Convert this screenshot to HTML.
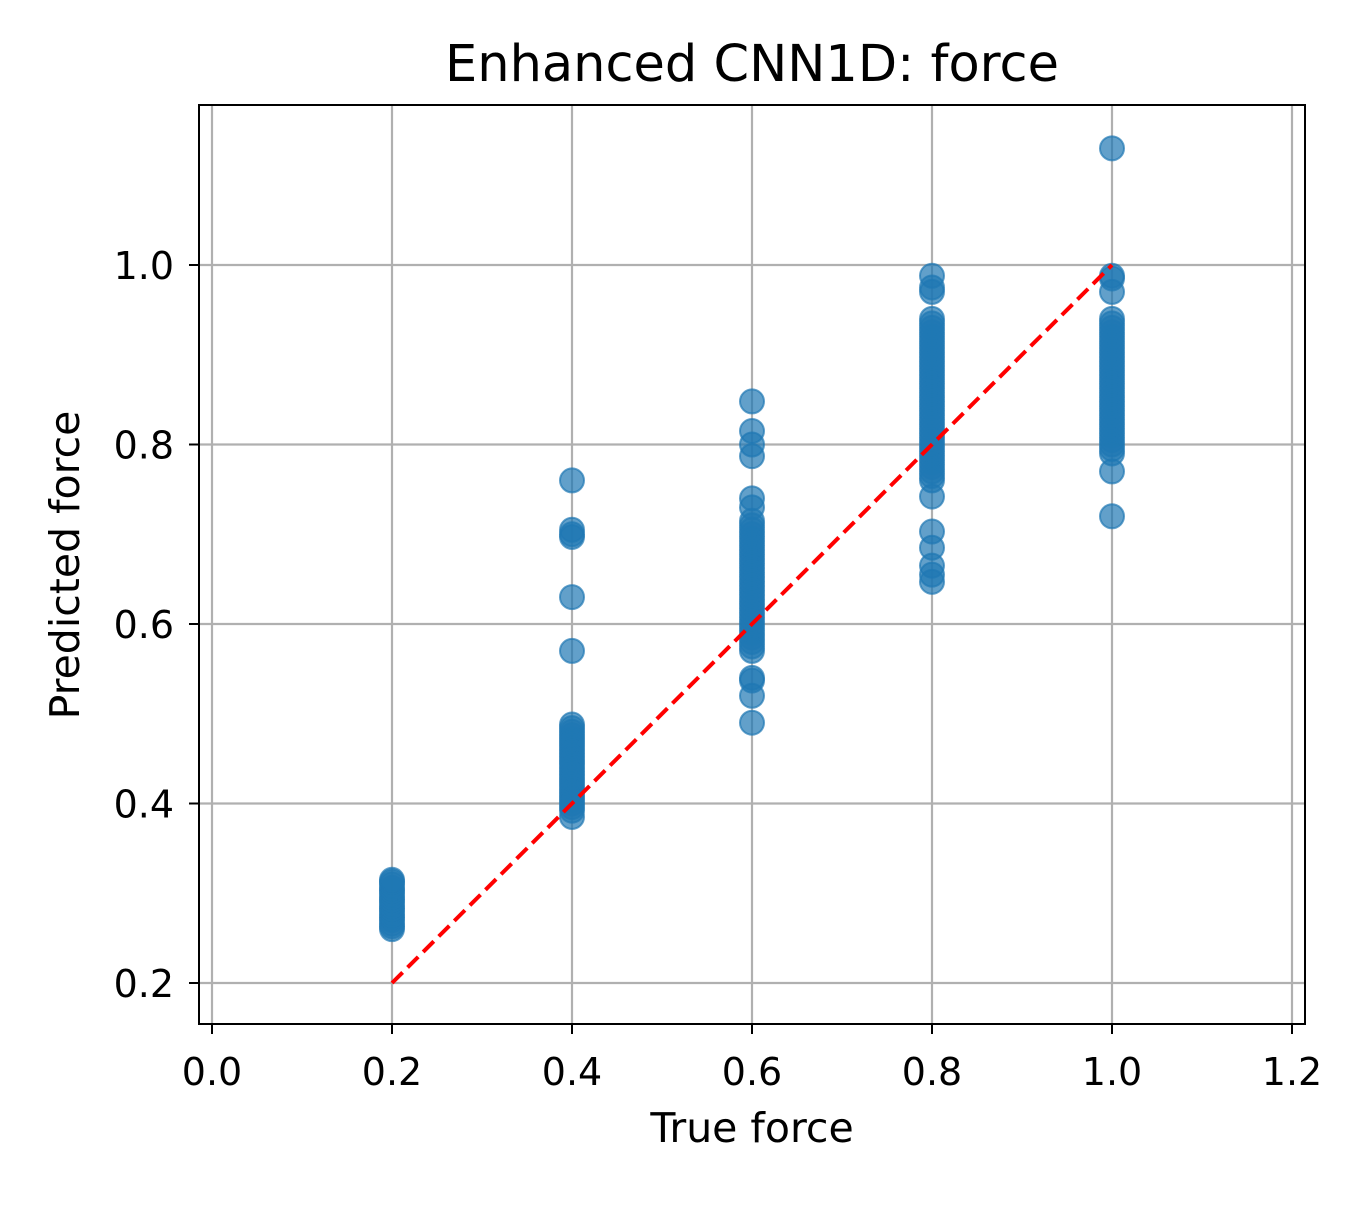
<!DOCTYPE html>
<html><head><meta charset="utf-8">
<style>
html,body{margin:0;padding:0;background:#fff;}
svg text{font-family:"DejaVu Sans","Liberation Sans",sans-serif;fill:#000;}
</style></head>
<body>
<svg id="chart" width="1350" height="1200" viewBox="0 0 1350 1200" xmlns="http://www.w3.org/2000/svg">
<rect x="0" y="0" width="1350" height="1200" fill="#fff"/>
<g id="grid"></g>
<g id="points"></g>
<g id="line"></g>
<rect x="199" y="105" width="1106" height="919" fill="none" stroke="#000" stroke-width="2"/>
<g id="ticks"></g>
<text x="752" y="81" font-size="51" text-anchor="middle">Enhanced CNN1D: force</text>
<text x="752" y="1142" font-size="41" text-anchor="middle">True force</text>
<text x="79" y="565" font-size="41" text-anchor="middle" transform="rotate(-90 79 565)">Predicted force</text>
</svg>
<script>
const xTicks=[0.0,0.2,0.4,0.6,0.8,1.0,1.2];
const yTicks=[0.2,0.4,0.6,0.8,1.0];
const trueVals=[0.2,0.4,0.6,0.8,1.0];
const pred02=[0.26,0.263,0.266,0.27,0.273,0.276,0.28,0.283,0.286,0.29,0.293,0.296,0.3,0.303,0.306,0.31,0.313,0.315];
const pred04=[0.76,0.705,0.70,0.697,0.63,0.57,0.488,0.484,0.48,0.476,0.472,0.468,0.464,0.46,0.456,0.452,0.448,0.444,0.44,0.436,0.432,0.428,0.424,0.42,0.416,0.412,0.408,0.404,0.40,0.396,0.392,0.385];
const pred06=[0.848,0.815,0.80,0.787,0.74,0.73,0.715,0.71,0.705,0.70,0.695,0.69,0.685,0.68,0.675,0.67,0.665,0.66,0.655,0.65,0.645,0.64,0.635,0.63,0.625,0.62,0.615,0.61,0.605,0.60,0.595,0.59,0.585,0.58,0.575,0.57,0.54,0.537,0.52,0.49];
const pred08=[0.988,0.975,0.97,0.94,0.935,0.93,0.925,0.92,0.915,0.91,0.905,0.90,0.895,0.89,0.885,0.88,0.875,0.87,0.865,0.86,0.855,0.85,0.845,0.84,0.835,0.83,0.825,0.82,0.815,0.81,0.805,0.80,0.795,0.79,0.785,0.78,0.775,0.77,0.765,0.76,0.742,0.703,0.685,0.665,0.655,0.647];
const pred10=[1.13,0.988,0.985,0.97,0.94,0.935,0.93,0.925,0.92,0.915,0.91,0.905,0.90,0.895,0.89,0.885,0.88,0.875,0.87,0.865,0.86,0.855,0.85,0.845,0.84,0.835,0.83,0.825,0.82,0.815,0.81,0.805,0.80,0.795,0.79,0.77,0.72];
const series=[pred02,pred04,pred06,pred08,pred10];
const NS='http://www.w3.org/2000/svg';
const xs=v=>212+v*900;
const ys=v=>983-(v-0.2)*897.5;
const L=199,R=1305,T=105,B=1024;
function mk(tag,attrs,parent){const e=document.createElementNS(NS,tag);for(const k in attrs)e.setAttribute(k,attrs[k]);parent.appendChild(e);return e;}
const grid=document.getElementById('grid'),ticks=document.getElementById('ticks'),pts=document.getElementById('points'),line=document.getElementById('line');
xTicks.forEach(t=>{
 const gl=mk('line',{x1:xs(t),x2:xs(t),y1:T,y2:B,stroke:'#b0b0b0','stroke-width':2.2},grid);
 
 
 const tk=mk('line',{x1:xs(t),x2:xs(t),y1:B,y2:B+10,stroke:'#000','stroke-width':2},ticks);
 
 
 const tx=mk('text',{x:xs(t),y:B+61,'font-size':38,'text-anchor':'middle'},ticks);
 tx.textContent=t.toFixed(1);
 
 
});
yTicks.forEach(t=>{
 const gl=mk('line',{x1:L,x2:R,y1:ys(t),y2:ys(t),stroke:'#b0b0b0','stroke-width':2.2},grid);
 
 
 const tk=mk('line',{x1:L-10,x2:L,y1:ys(t),y2:ys(t),stroke:'#000','stroke-width':2},ticks);
 
 
 const tx=mk('text',{x:L-25,y:ys(t)+14,'font-size':38,'text-anchor':'end'},ticks);
 tx.textContent=t.toFixed(1);
 
 
});
series.forEach((arr,i)=>{
 arr.forEach(v=>{
  const c=mk('circle',{cx:xs(trueVals[i]),cy:ys(v),r:12,fill:'#1f77b4','fill-opacity':0.7,stroke:'#1f77b4','stroke-opacity':0.7,'stroke-width':2},pts);
  
  
 });
});
const dl=mk('line',{x1:xs(0.2),y1:ys(0.2),x2:xs(1.0),y2:ys(1.0),stroke:'#ff0000','stroke-width':4,'stroke-dasharray':'15,7'},line);


</script>
</body></html>
